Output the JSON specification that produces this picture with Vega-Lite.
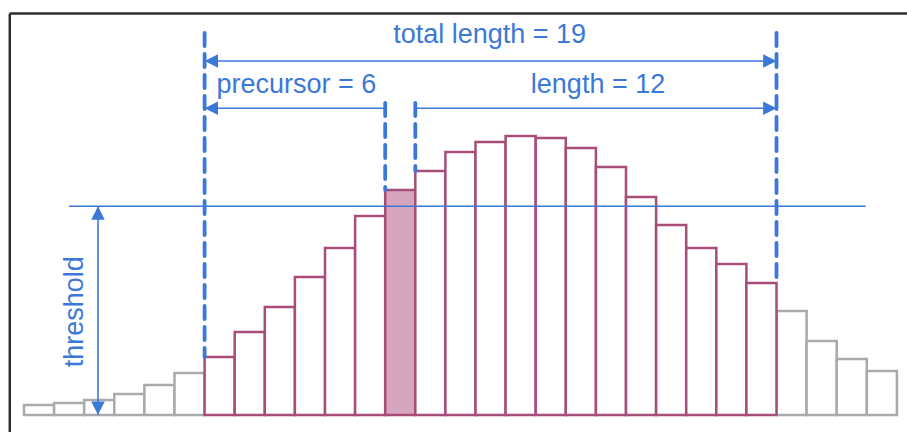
{
  "$schema": "https://vega.github.io/schema/vega-lite/v6.json",
  "width": 907,
  "height": 432,
  "padding": 0,
  "autosize": {"type": "none"},
  "background": "white",
  "config": {"view": {"stroke": null}},
  "datasets": {
    "frame": [
      {"x": -0.472, "x2": -0.472, "y": -17, "y2": 401.5},
      {"x": -0.472, "x2": 29.335, "y": 401.5, "y2": 401.5}
    ],
    "bars": [
      {"start": 0, "end": 1, "h": 10, "grp": "gray"},
      {"start": 1, "end": 2, "h": 12, "grp": "gray"},
      {"start": 2, "end": 3, "h": 15, "grp": "gray"},
      {"start": 3, "end": 4, "h": 21, "grp": "gray"},
      {"start": 4, "end": 5, "h": 30, "grp": "gray"},
      {"start": 5, "end": 6, "h": 42, "grp": "gray"},
      {"start": 25, "end": 26, "h": 104, "grp": "gray"},
      {"start": 26, "end": 27, "h": 74, "grp": "gray"},
      {"start": 27, "end": 28, "h": 56, "grp": "gray"},
      {"start": 28, "end": 29, "h": 44, "grp": "gray"},
      {"start": 6, "end": 7, "h": 58, "grp": "seg"},
      {"start": 7, "end": 8, "h": 83, "grp": "seg"},
      {"start": 8, "end": 9, "h": 108, "grp": "seg"},
      {"start": 9, "end": 10, "h": 138, "grp": "seg"},
      {"start": 10, "end": 11, "h": 167, "grp": "seg"},
      {"start": 11, "end": 12, "h": 199, "grp": "seg"},
      {"start": 12, "end": 13, "h": 225, "grp": "peak"},
      {"start": 13, "end": 14, "h": 244, "grp": "seg"},
      {"start": 14, "end": 15, "h": 263, "grp": "seg"},
      {"start": 15, "end": 16, "h": 273, "grp": "seg"},
      {"start": 16, "end": 17, "h": 279, "grp": "seg"},
      {"start": 17, "end": 18, "h": 277, "grp": "seg"},
      {"start": 18, "end": 19, "h": 267, "grp": "seg"},
      {"start": 19, "end": 20, "h": 248, "grp": "seg"},
      {"start": 20, "end": 21, "h": 218, "grp": "seg"},
      {"start": 21, "end": 22, "h": 190, "grp": "seg"},
      {"start": 22, "end": 23, "h": 167, "grp": "seg"},
      {"start": 23, "end": 24, "h": 151, "grp": "seg"},
      {"start": 24, "end": 25, "h": 132, "grp": "seg"}
    ],
    "dashes": [
      {"x": 6, "top": 382, "bot": 58},
      {"x": 25, "top": 382, "bot": 132},
      {"x": 12, "top": 312, "bot": 225},
      {"x": 13, "top": 312, "bot": 244}
    ],
    "lines": [
      {"x": 6, "x2": 25, "y": 354, "y2": 354},
      {"x": 6, "x2": 12, "y": 306.7, "y2": 306.7},
      {"x": 13, "x2": 25, "y": 306.7, "y2": 306.7},
      {"x": 2.458, "x2": 2.458, "y": 0, "y2": 208.7},
      {"x": 1.495, "x2": 27.96, "y": 208.7, "y2": 208.7}
    ],
    "heads": [
      {"x": 6, "y": 354, "dir": "left"},
      {"x": 25, "y": 354, "dir": "right"},
      {"x": 6, "y": 306.7, "dir": "left"},
      {"x": 25, "y": 306.7, "dir": "right"},
      {"x": 2.458, "y": 208.7, "dir": "up"},
      {"x": 2.458, "y": 0, "dir": "down"}
    ],
    "labels": [
      {"text": "total length = 19", "x": 15.47, "y": 371.7},
      {"text": "precursor = 6", "x": 9.05, "y": 322},
      {"text": "length = 12", "x": 19.07, "y": 322}
    ],
    "vlabel": [
      {"text": "threshold", "x": 1.96, "y": 103.3}
    ]
  },
  "layer": [
    {
      "data": {"name": "frame"},
      "mark": {"type": "rule", "color": "#2e2e2e", "strokeWidth": 2.5},
      "encoding": {
        "x": {"field": "x", "type": "quantitative", "scale": {"domain": [-0.7973, 29.335], "nice": false, "zero": false}, "axis": null},
        "x2": {"field": "x2"},
        "y": {"field": "y", "type": "quantitative", "scale": {"domain": [-17, 415], "nice": false, "zero": false}, "axis": null},
        "y2": {"field": "y2"}
      }
    },
    {
      "data": {"name": "bars"},
      "mark": {"type": "rect", "strokeWidth": 2.5},
      "encoding": {
        "x": {"field": "start", "type": "quantitative", "scale": {"domain": [-0.7973, 29.335], "nice": false, "zero": false}, "axis": null},
        "x2": {"field": "end"},
        "y": {"field": "h", "type": "quantitative", "scale": {"domain": [-17, 415], "nice": false, "zero": false}, "axis": null},
        "y2": {"datum": 0},
        "fill": {"field": "grp", "type": "nominal", "scale": {"domain": ["gray", "seg", "peak"], "range": ["#ffffff", "#ffffff", "#d5a6bd"]}, "legend": null},
        "stroke": {"field": "grp", "type": "nominal", "scale": {"domain": ["gray", "seg", "peak"], "range": ["#aaaaaa", "#a64d79", "#a64d79"]}, "legend": null}
      }
    },
    {
      "data": {"name": "lines"},
      "mark": {"type": "rule", "color": "#3c78d8", "strokeWidth": 1.6},
      "encoding": {
        "x": {"field": "x", "type": "quantitative", "scale": {"domain": [-0.7973, 29.335], "nice": false, "zero": false}, "axis": null},
        "x2": {"field": "x2"},
        "y": {"field": "y", "type": "quantitative", "scale": {"domain": [-17, 415], "nice": false, "zero": false}, "axis": null},
        "y2": {"field": "y2"}
      }
    },
    {
      "data": {"name": "dashes"},
      "mark": {"type": "rule", "color": "#3c78d8", "strokeWidth": 3.8, "strokeDash": [13, 8], "strokeCap": "round"},
      "encoding": {
        "x": {"field": "x", "type": "quantitative", "scale": {"domain": [-0.7973, 29.335], "nice": false, "zero": false}, "axis": null},
        "y": {"field": "top", "type": "quantitative", "scale": {"domain": [-17, 415], "nice": false, "zero": false}, "axis": null},
        "y2": {"field": "bot"}
      }
    },
    {
      "data": {"name": "heads"},
      "mark": {"type": "point", "filled": true, "color": "#3c78d8", "opacity": 1, "size": 180, "strokeWidth": 0},
      "encoding": {
        "x": {"field": "x", "type": "quantitative", "scale": {"domain": [-0.7973, 29.335], "nice": false, "zero": false}, "axis": null},
        "y": {"field": "y", "type": "quantitative", "scale": {"domain": [-17, 415], "nice": false, "zero": false}, "axis": null},
        "shape": {"field": "dir", "type": "nominal", "scale": {"domain": ["left", "right", "up", "down"], "range": ["M0,0L2,-1L2,1Z", "M0,0L-2,-1L-2,1Z", "M0,0L-1,2L1,2Z", "M0,0L-1,-2L1,-2Z"]}, "legend": null}
      }
    },
    {
      "data": {"name": "labels"},
      "mark": {"type": "text", "font": "Liberation Sans", "fontSize": 27, "color": "#3c78d8", "align": "center", "baseline": "alphabetic"},
      "encoding": {
        "x": {"field": "x", "type": "quantitative", "scale": {"domain": [-0.7973, 29.335], "nice": false, "zero": false}, "axis": null},
        "y": {"field": "y", "type": "quantitative", "scale": {"domain": [-17, 415], "nice": false, "zero": false}, "axis": null},
        "text": {"field": "text", "type": "nominal"}
      }
    },
    {
      "data": {"name": "vlabel"},
      "mark": {"type": "text", "font": "Liberation Sans", "fontSize": 27, "color": "#3c78d8", "align": "center", "baseline": "alphabetic", "angle": 270},
      "encoding": {
        "x": {"field": "x", "type": "quantitative", "scale": {"domain": [-0.7973, 29.335], "nice": false, "zero": false}, "axis": null},
        "y": {"field": "y", "type": "quantitative", "scale": {"domain": [-17, 415], "nice": false, "zero": false}, "axis": null},
        "text": {"field": "text", "type": "nominal"}
      }
    }
  ]
}
